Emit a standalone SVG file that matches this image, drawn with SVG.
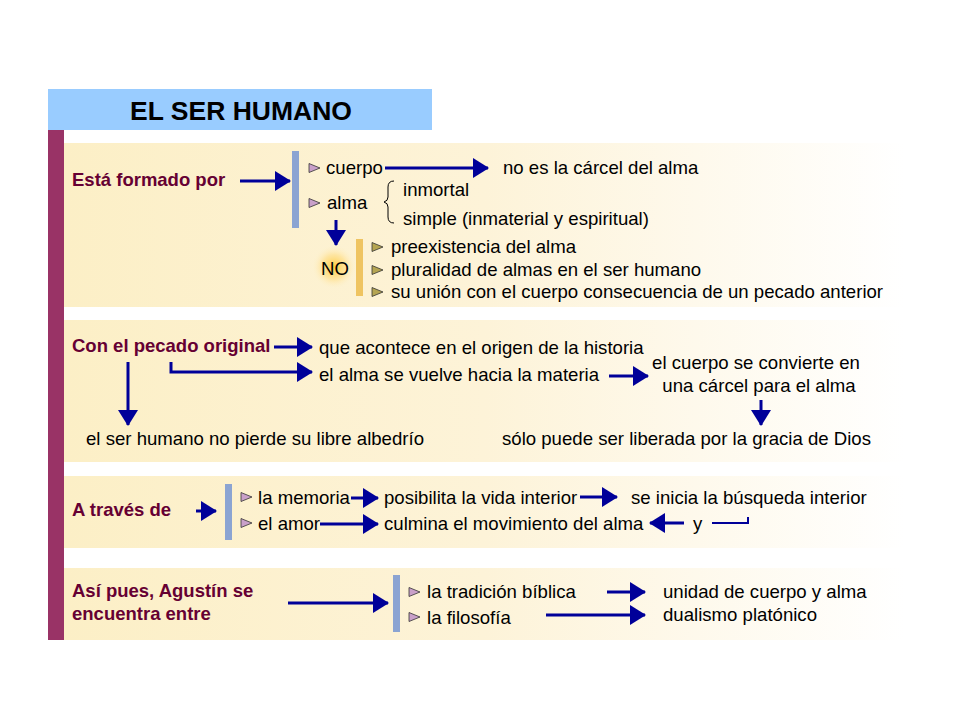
<svg xmlns="http://www.w3.org/2000/svg" width="960" height="720" viewBox="0 0 960 720">
<defs>
  <linearGradient id="panelGrad" gradientUnits="userSpaceOnUse" x1="64" y1="0" x2="905" y2="0">
    <stop offset="0" stop-color="#FCEFC6"/>
    <stop offset="0.5" stop-color="#FDF3D8"/>
    <stop offset="1" stop-color="#FFFFFF"/>
  </linearGradient>
  <radialGradient id="glow" cx="0.5" cy="0.5" r="0.5">
    <stop offset="0" stop-color="#FFC933" stop-opacity="0.95"/>
    <stop offset="0.55" stop-color="#FFDC80" stop-opacity="0.6"/>
    <stop offset="1" stop-color="#FFF2CC" stop-opacity="0"/>
  </radialGradient>
  <marker id="ah" viewBox="0 0 16 20" refX="15" refY="10" markerWidth="16" markerHeight="20" markerUnits="userSpaceOnUse" orient="auto">
    <path d="M0,0 L16,10 L0,20 Z" fill="#000099"/>
  </marker>
  <path id="tri" d="M0,-4.5 L11,0 L0,4.5 Z"/>
</defs>
<style>
  .panel { fill: url(#panelGrad); }
  .lbl { font-family: "Liberation Sans", Arial, sans-serif; font-size: 18.5px; font-weight: bold; fill: #660033; }
  .t { font-family: "Liberation Sans", Arial, sans-serif; font-size: 18.6px; fill: #000000; }
  .ttl { font-family: "Liberation Sans", Arial, sans-serif; font-size: 26.5px; font-weight: bold; fill: #000000; }
  .conn { stroke: #000099; stroke-width: 3; fill: none; }
  .arr { marker-end: url(#ah); }
  .bbar { fill: #8BA4D2; }
  .ybar { fill: #EFC461; }
  .b1 { fill: #C9A0C9; stroke: #333333; stroke-width: 0.8; }
  .b2 { fill: #B5A552; stroke: #333333; stroke-width: 0.8; }
</style>
<rect width="960" height="720" fill="#FFFFFF"/>

<g id="title">
  <rect x="48" y="89" width="384" height="41" fill="#99CCFF"/>
  <text class="ttl" x="241" y="120" text-anchor="middle">EL SER HUMANO</text>
</g>
<rect id="sidebar" x="48" y="130" width="16" height="510" fill="#993366"/>

<g id="panels">
  <rect class="panel" x="64" y="143" width="841" height="164"/>
  <rect class="panel" x="64" y="320" width="841" height="142"/>
  <rect class="panel" x="64" y="476" width="841" height="72"/>
  <rect class="panel" x="64" y="568" width="841" height="72"/>
</g>

<g id="node-formado">
  <text class="lbl" x="72" y="186">Está formado por</text>
</g>
<g id="node-cuerpo-alma">
  <rect class="bbar" x="292" y="151" width="7" height="77"/>
  <use href="#tri" class="b1" x="309" y="168"/>
  <text class="t" x="326" y="174">cuerpo</text>
  <use href="#tri" class="b1" x="309" y="203"/>
  <text class="t" x="327" y="209">alma</text>
</g>
<g id="node-nocarcel">
  <text class="t" x="503" y="174">no es la cárcel del alma</text>
</g>
<g id="node-alma-attrs">
  <path d="M394,181 Q388,181 388,187 L388,197 Q388,201 384,202 Q388,203 388,207 L388,217 Q388,223 394,223" fill="none" stroke="#000000" stroke-width="1"/>
  <text class="t" x="403" y="196">inmortal</text>
  <text class="t" x="403" y="225">simple (inmaterial y espiritual)</text>
</g>
<g id="node-no">
  <circle cx="334" cy="267" r="22" fill="url(#glow)"/>
  <text class="t" x="321" y="275">NO</text>
</g>
<g id="node-no-list">
  <rect class="ybar" x="356" y="239" width="7" height="57"/>
  <use href="#tri" class="b2" x="372" y="247"/>
  <text class="t" x="391" y="253">preexistencia del alma</text>
  <use href="#tri" class="b2" x="372" y="270"/>
  <text class="t" x="391" y="276">pluralidad de almas en el ser humano</text>
  <use href="#tri" class="b2" x="372" y="292"/>
  <text class="t" x="391" y="298">su unión con el cuerpo consecuencia de un pecado anterior</text>
</g>

<g id="node-pecado">
  <text class="lbl" x="72" y="352">Con el pecado original</text>
</g>
<g id="node-acontece">
  <text class="t" x="319" y="354">que acontece en el origen de la historia</text>
</g>
<g id="node-materia">
  <text class="t" x="319" y="381">el alma se vuelve hacia la materia</text>
</g>
<g id="node-carcel">
  <text class="t" x="756" y="369" text-anchor="middle">el cuerpo se convierte en</text>
  <text class="t" x="759" y="392" text-anchor="middle">una cárcel para el alma</text>
</g>
<g id="node-liberada">
  <text class="t" x="502" y="445">sólo puede ser liberada por la gracia de Dios</text>
</g>
<g id="node-albedrio">
  <text class="t" x="86" y="445">el ser humano no pierde su libre albedrío</text>
</g>

<g id="node-traves">
  <text class="lbl" x="72" y="516">A través de</text>
</g>
<g id="node-memoria-amor">
  <rect class="bbar" x="225" y="484" width="7" height="56"/>
  <use href="#tri" class="b1" x="241" y="497"/>
  <text class="t" x="258" y="504">la memoria</text>
  <use href="#tri" class="b1" x="241" y="523"/>
  <text class="t" x="258" y="530">el amor</text>
</g>
<g id="node-posibilita">
  <text class="t" x="384" y="504">posibilita la vida interior</text>
</g>
<g id="node-busqueda">
  <text class="t" x="631" y="504">se inicia la búsqueda interior</text>
</g>
<g id="node-culmina">
  <text class="t" x="384" y="530">culmina el movimiento del alma</text>
</g>
<g id="node-y">
  <text class="t" x="693" y="530">y</text>
</g>

<g id="node-agustin">
  <text class="lbl" x="72" y="597">Así pues, Agustín se</text>
  <text class="lbl" x="72" y="620">encuentra entre</text>
</g>
<g id="node-tradicion-filosofia">
  <rect class="bbar" x="393" y="575" width="7" height="57"/>
  <use href="#tri" class="b1" x="409" y="592"/>
  <text class="t" x="427" y="598">la tradición bíblica</text>
  <use href="#tri" class="b1" x="409" y="617"/>
  <text class="t" x="427" y="624">la filosofía</text>
</g>
<g id="node-unidad">
  <text class="t" x="663" y="598">unidad de cuerpo y alma</text>
</g>
<g id="node-dualismo">
  <text class="t" x="663" y="621">dualismo platónico</text>
</g>

<g id="connectors">
  <line class="conn arr" x1="240" y1="181" x2="290" y2="181"/>
  <line class="conn arr" x1="385" y1="168" x2="488" y2="168"/>
  <line class="conn arr" x1="336" y1="220" x2="336" y2="245"/>
  <line class="conn arr" x1="274" y1="347" x2="312" y2="347"/>
  <path class="conn arr" d="M171,362 L171,372 L312,372"/>
  <line class="conn arr" x1="609" y1="376" x2="648" y2="376"/>
  <line class="conn arr" x1="761" y1="400" x2="761" y2="425"/>
  <line class="conn arr" x1="128" y1="362" x2="128" y2="425"/>
  <line class="conn arr" x1="196" y1="511" x2="216" y2="511"/>
  <line class="conn arr" x1="351" y1="498" x2="378" y2="498"/>
  <line class="conn arr" x1="580" y1="497" x2="617" y2="497"/>
  <line class="conn arr" x1="320" y1="524" x2="378" y2="524"/>
  <line class="conn arr" x1="684" y1="523" x2="650" y2="523"/>
  <path class="conn" d="M712,523 L748,523 L748,517" style="stroke-width:2"/>
  <line class="conn arr" x1="288" y1="603" x2="388" y2="603"/>
  <line class="conn arr" x1="607" y1="592" x2="645" y2="592"/>
  <line class="conn arr" x1="546" y1="615" x2="645" y2="615"/>
</g>
</svg>
